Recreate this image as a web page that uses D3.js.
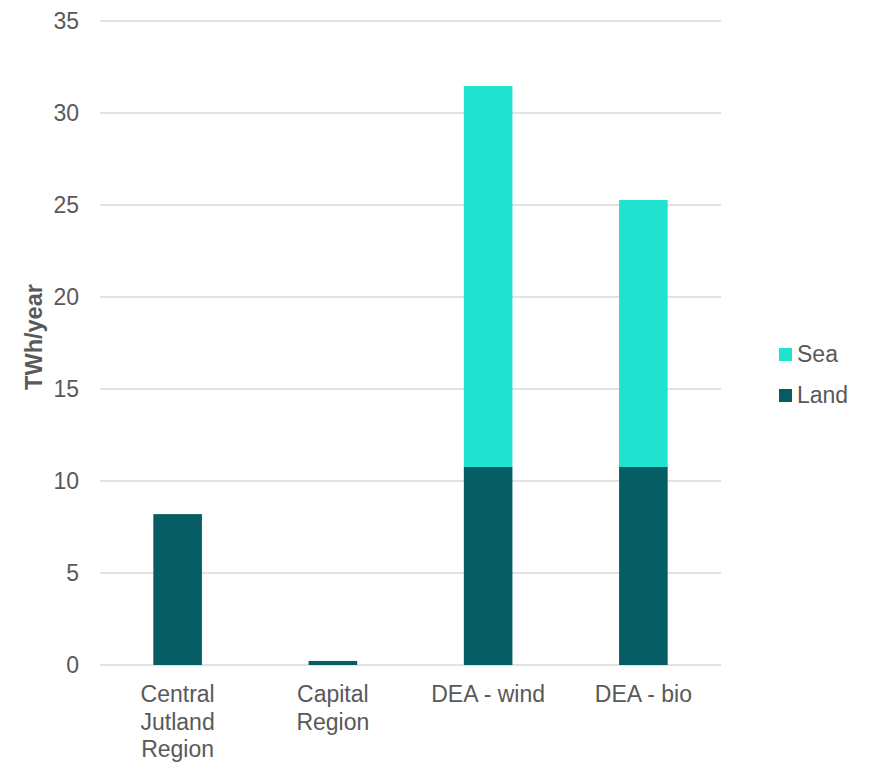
<!DOCTYPE html>
<html><head><meta charset="utf-8">
<script src="https://cdn.jsdelivr.net/npm/d3@7"></script>
<style>body{margin:0;background:#fff;}text{font-family:"Liberation Sans",Arial,sans-serif;}</style>
</head><body>
<svg id="chart" width="870" height="764"></svg>
<script>
const categories = ["Central Jutland Region", "Capital Region", "DEA - wind", "DEA - bio"];
const categoryLines = [["Central", "Jutland", "Region"], ["Capital", "Region"], ["DEA - wind"], ["DEA - bio"]];
const landValues = [8.2, 0.22, 10.76, 10.76];
const seaValues = [0, 0, 20.71, 14.51];
const yTicks = [0, 5, 10, 15, 20, 25, 30, 35];
const seriesNames = ["Land", "Sea"];
const seriesColors = ["#065D63", "#1FE3CF"];

const svg = d3.select("#chart");
const x = d3.scaleBand().domain(categories).range([100, 721]).paddingInner(0.687).paddingOuter(0.3435);
const y = d3.scaleLinear().domain([0, 35]).range([665, 21]);
const textColor = "#595959";

// gridlines
svg.append("g").selectAll("line").data(yTicks).join("line")
  .attr("x1", 100).attr("x2", 721)
  .attr("y1", d => y(d)).attr("y2", d => y(d))
  .attr("stroke", "#d9d9d9").attr("stroke-width", 1.4);

// y axis
const yAxis = d3.axisLeft(y).tickValues(yTicks).tickSize(0).tickPadding(0);
const yg = svg.append("g").attr("transform", "translate(79,0)").call(yAxis);
yg.select(".domain").remove();
yg.selectAll("text").attr("fill", textColor).attr("font-size", 23)
  .attr("font-family", "'Liberation Sans', Arial, sans-serif");

// stacked data
const rows = categories.map((c, i) => ({cat: c, Land: landValues[i], Sea: seaValues[i]}));
const stack = d3.stack().keys(seriesNames)(rows);
const color = d3.scaleOrdinal().domain(seriesNames).range(seriesColors);

svg.append("g").selectAll("g").data(stack).join("g")
  .attr("fill", d => color(d.key))
  .selectAll("rect").data(d => d.filter(p => p[1] - p[0] > 0)).join("rect")
  .attr("x", d => x(d.data.cat))
  .attr("width", x.bandwidth())
  .attr("y", d => y(d[1]))
  .attr("height", d => y(d[0]) - y(d[1]));

// x labels
const xl = svg.append("g");
categories.forEach((c, i) => {
  const t = xl.append("text").attr("text-anchor", "middle")
    .attr("fill", textColor).attr("font-size", 23)
    .attr("x", x(c) + x.bandwidth() / 2).attr("y", 702);
  categoryLines[i].forEach((ln, j) => {
    t.append("tspan").attr("x", x(c) + x.bandwidth() / 2).attr("dy", j === 0 ? 0 : 27.7).text(ln);
  });
});

// y title
svg.append("text").attr("transform", "translate(42,337) rotate(-90)")
  .attr("text-anchor", "middle").attr("fill", textColor)
  .attr("font-size", 23.5).attr("font-weight", "bold").text("TWh/year");

// legend
const legendItems = ["Sea", "Land"];
const lg = svg.append("g");
legendItems.forEach((k, i) => {
  const yy = 348 + i * 41;
  lg.append("rect").attr("x", 779).attr("y", yy).attr("width", 13).attr("height", 13).attr("fill", color(k));
  lg.append("text").attr("x", 797).attr("y", yy + 14).attr("fill", textColor).attr("font-size", 23).text(k);
});
</script>
</body></html>
